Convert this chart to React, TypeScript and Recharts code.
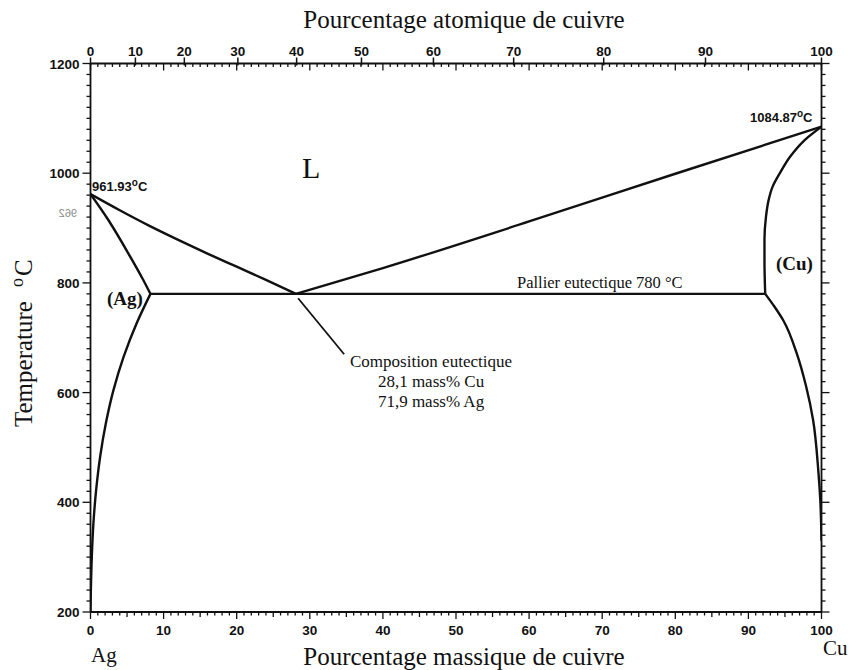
import React from 'react';
import { LineChart, Line, XAxis, YAxis } from 'recharts';

// ---- composition conversion (atomic % Cu -> mass % Cu) for the top scale ----
const M_CU = 63.546;
const M_AG = 107.868;
const massFromAtomic = (a: number) => ((a * M_CU) / (a * M_CU + (100 - a) * M_AG)) * 100;

// ---- tick labels ----
const massTickLabels = [0, 10, 20, 30, 40, 50, 60, 70, 80, 90, 100];
const atomicTickLabels = [0, 10, 20, 30, 40, 50, 60, 70, 80, 90, 100];
const tempTickLabels = [200, 400, 600, 800, 1000, 1200];
const MASS_MINOR_STEP = 1;
const TEMP_MINOR_STEP = 20;

// ---- phase boundaries: x = mass % Cu, t = temperature (°C) ----
const liquidusAg = [
  { x: 0, t: 961.93 },
  { x: 4, t: 932.5 },
  { x: 8, t: 904.5 },
  { x: 12, t: 878.5 },
  { x: 16, t: 853.5 },
  { x: 20, t: 829.5 },
  { x: 24, t: 805.5 },
  { x: 28.1, t: 780 },
];
const liquidusCu = [
  { x: 28.1, t: 780 },
  { x: 40, t: 827 },
  { x: 60, t: 912 },
  { x: 80, t: 999 },
  { x: 100, t: 1084.87 },
];
const solidusAg = [
  { x: 0, t: 961.93 },
  { x: 2.44, t: 914.7 },
  { x: 5.17, t: 854 },
  { x: 7.22, t: 805.3 },
  { x: 8.2, t: 780 },
];
const solvusAg = [
  { x: 8.2, t: 780 },
  { x: 6.3, t: 726 },
  { x: 4.55, t: 666 },
  { x: 3.15, t: 605 },
  { x: 2.1, t: 544 },
  { x: 1.32, t: 483 },
  { x: 0.77, t: 422 },
  { x: 0.4, t: 362 },
  { x: 0.18, t: 301 },
  { x: 0.05, t: 240 },
  { x: 0, t: 200 },
];
const solidusCu = [
  { x: 100, t: 1084.87 },
  { x: 97.7, t: 1060.5 },
  { x: 95.7, t: 1030 },
  { x: 94.3, t: 1000 },
  { x: 93.3, t: 975 },
  { x: 92.75, t: 950 },
  { x: 92.4, t: 920 },
  { x: 92.2, t: 880 },
  { x: 92.2, t: 840 },
  { x: 92.3, t: 780 },
];
const solvusCu = [
  { x: 92.3, t: 780 },
  { x: 93.6, t: 756 },
  { x: 94.8, t: 731 },
  { x: 96.6, t: 672 },
  { x: 97.9, t: 611 },
  { x: 98.85, t: 550 },
  { x: 99.55, t: 460 },
  { x: 99.85, t: 400 },
  { x: 100, t: 330 },
];
const eutecticPlateau = [
  { x: 8.2, t: 780 },
  { x: 92.3, t: 780 },
];
const eutecticPointer = [
  { x: 28.4, t: 772 },
  { x: 34.7, t: 670 },
];

// ---- derived tick lists ----
const massTicks: number[] = [];
for (let v = 0; v <= 100; v += MASS_MINOR_STEP) massTicks.push(v);
const tempTicks: number[] = [];
for (let t = 200; t <= 1200; t += TEMP_MINOR_STEP) tempTicks.push(t);
const atomicPositions = atomicTickLabels.map(massFromAtomic);
const topTicks = Array.from(new Set([...atomicPositions, ...massTicks])).sort((a, b) => a - b);

const INK = '#111';
const SANS = "'Liberation Sans', Arial, sans-serif";
const SERIF = "'Liberation Serif', 'Times New Roman', serif";

function BottomTick(props: any) {
  const { x, y, payload } = props;
  const v = payload.value as number;
  const major = massTickLabels.includes(v);
  const mid = v % 5 === 0;
  const len = major ? 7 : mid ? 5 : 3.5;
  return (
    <g>
      <line x1={x} x2={x} y1={y} y2={y + len} stroke={INK} strokeWidth={1.3} />
      {major && (
        <text x={x} y={y + 23} textAnchor="middle" fontFamily={SANS} fontWeight="bold" fontSize={13.5} fill={INK}>
          {v}
        </text>
      )}
    </g>
  );
}

function TopTick(props: any) {
  const { x, y, payload } = props;
  const v = payload.value as number;
  const ai = atomicPositions.findIndex((p) => Math.abs(p - v) < 1e-9);
  const isMass = Math.abs(v - Math.round(v)) < 1e-9;
  const massLen = isMass ? (Math.round(v) % 10 === 0 ? 7 : 3.5) : 0;
  return (
    <g>
      {isMass && <line x1={x} x2={x} y1={y} y2={y + massLen} stroke={INK} strokeWidth={1.3} />}
      {ai >= 0 && <line x1={x} x2={x} y1={y - 6} y2={y + 2} stroke={INK} strokeWidth={1.5} />}
      {ai >= 0 && (
        <text x={x} y={y - 7.5} textAnchor="middle" fontFamily={SANS} fontWeight="bold" fontSize={13.5} fill={INK}>
          {atomicTickLabels[ai]}
        </text>
      )}
    </g>
  );
}

function LeftTick(props: any) {
  const { x, y, payload } = props;
  const v = payload.value as number;
  const major = tempTickLabels.includes(v);
  const len = major ? 8 : 4;
  return (
    <g>
      <line x1={x - len} x2={x} y1={y} y2={y} stroke={INK} strokeWidth={1.3} />
      {major && (
        <text x={x - 11} y={y + 5} textAnchor="end" fontFamily={SANS} fontWeight="bold" fontSize={13.5} fill={INK}>
          {v}
        </text>
      )}
    </g>
  );
}

function RightTick(props: any) {
  const { x, y, payload } = props;
  const v = payload.value as number;
  const major = tempTickLabels.includes(v);
  const len = major ? 8 : 4;
  return <line x1={x} x2={x + len} y1={y} y2={y} stroke={INK} strokeWidth={1.3} />;
}

const lineProps = {
  dataKey: 't',
  xAxisId: 'bottom',
  yAxisId: 'left',
  stroke: INK,
  strokeWidth: 2.4,
  dot: false,
  activeDot: false,
  isAnimationActive: false,
} as const;

export default function App() {
  return (
    <div style={{ position: 'absolute', left: 0, top: 0, width: 851, height: 670, background: '#fff' }}>
      <LineChart width={851} height={670} margin={{ top: 33.5, right: 9.5, bottom: 28, left: 30.5 }}>
        <XAxis
          xAxisId="bottom"
          orientation="bottom"
          type="number"
          dataKey="x"
          domain={[0, 100]}
          allowDataOverflow
          ticks={massTicks}
          interval={0}
          height={30}
          tickSize={0}
          tickMargin={0}
          tickLine={false}
          axisLine={{ stroke: INK, strokeWidth: 1.8 }}
          tick={<BottomTick />}
        />
        <XAxis
          xAxisId="top"
          orientation="top"
          type="number"
          dataKey="x"
          domain={[0, 100]}
          allowDataOverflow
          ticks={topTicks}
          interval={0}
          height={30}
          tickSize={0}
          tickMargin={0}
          tickLine={false}
          axisLine={{ stroke: INK, strokeWidth: 1.8 }}
          tick={<TopTick />}
        />
        <YAxis
          yAxisId="left"
          orientation="left"
          type="number"
          domain={[200, 1200]}
          allowDataOverflow
          ticks={tempTicks}
          interval={0}
          width={60}
          tickSize={0}
          tickMargin={0}
          tickLine={false}
          axisLine={{ stroke: INK, strokeWidth: 1.8 }}
          tick={<LeftTick />}
        />
        <YAxis
          yAxisId="right"
          orientation="right"
          type="number"
          domain={[200, 1200]}
          allowDataOverflow
          ticks={tempTicks}
          interval={0}
          width={20}
          tickSize={0}
          tickMargin={0}
          tickLine={false}
          axisLine={{ stroke: INK, strokeWidth: 1.8 }}
          tick={<RightTick />}
        />
        <Line {...lineProps} data={liquidusAg} type="monotoneX" />
        <Line {...lineProps} data={liquidusCu} type="monotoneX" />
        <Line {...lineProps} data={solidusAg} type="monotoneX" />
        <Line {...lineProps} data={solvusAg} type="monotoneY" />
        <Line {...lineProps} data={solidusCu} type="monotoneY" />
        <Line {...lineProps} data={solvusCu} type="monotoneY" />
        <Line {...lineProps} data={eutecticPlateau} type="linear" />
        <Line {...lineProps} data={eutecticPointer} type="linear" strokeWidth={1.8} />
      </LineChart>

      <svg
        width={851}
        height={670}
        style={{ position: 'absolute', left: 0, top: 0, pointerEvents: 'none' }}
      >
        {/* axis titles */}
        <text x={464} y={27.5} textAnchor="middle" fontFamily={SERIF} fontSize={25} fill={INK}>
          Pourcentage atomique de cuivre
        </text>
        <text x={464} y={665} textAnchor="middle" fontFamily={SERIF} fontSize={25} fill={INK}>
          Pourcentage massique de cuivre
        </text>
        <text transform="translate(32,427) rotate(-90)" fontFamily={SERIF} fontSize={25} fill={INK}>
          Temperature
          <tspan dx={14} dy={-9} fontSize={18}>o</tspan>
          <tspan dx={2} dy={9}>C</tspan>
        </text>
        <text x={91} y={662} fontFamily={SERIF} fontSize={21} fill={INK}>Ag</text>
        <text x={823} y={655} fontFamily={SERIF} fontSize={21} fill={INK}>Cu</text>

        {/* melting points */}
        <text x={92} y={191} fontFamily={SANS} fontWeight="bold" fontSize={13} fill={INK}>
          961.93
          <tspan dy={-5} fontSize={10}>o</tspan>
          <tspan dy={5}>C</tspan>
        </text>
        <text x={750} y={122} fontFamily={SANS} fontWeight="bold" fontSize={13} fill={INK}>
          1084.87
          <tspan dy={-5} fontSize={10}>o</tspan>
          <tspan dy={5}>C</tspan>
        </text>
        <text transform="scale(-1,1)" x={-77} y={217} fontFamily={SANS} fontSize={11} fill="#8a8a8a">962</text>

        {/* phase labels */}
        <text x={302} y={178} fontFamily={SERIF} fontSize={30} fill={INK}>L</text>
        <text x={107} y={305} fontFamily={SERIF} fontWeight="bold" fontSize={19} fill={INK}>(Ag)</text>
        <text x={776} y={270} fontFamily={SERIF} fontWeight="bold" fontSize={19} fill={INK}>(Cu)</text>

        {/* annotations */}
        <text x={517} y={288} fontFamily={SERIF} fontSize={16.5} fill={INK}>Pallier eutectique 780 °C</text>
        <text x={431} y={366.5} textAnchor="middle" fontFamily={SERIF} fontSize={17} fill={INK}>Composition eutectique</text>
        <text x={431} y={387} textAnchor="middle" fontFamily={SERIF} fontSize={17} fill={INK}>28,1 mass% Cu</text>
        <text x={431} y={407} textAnchor="middle" fontFamily={SERIF} fontSize={17} fill={INK}>71,9 mass% Ag</text>
      </svg>
    </div>
  );
}
